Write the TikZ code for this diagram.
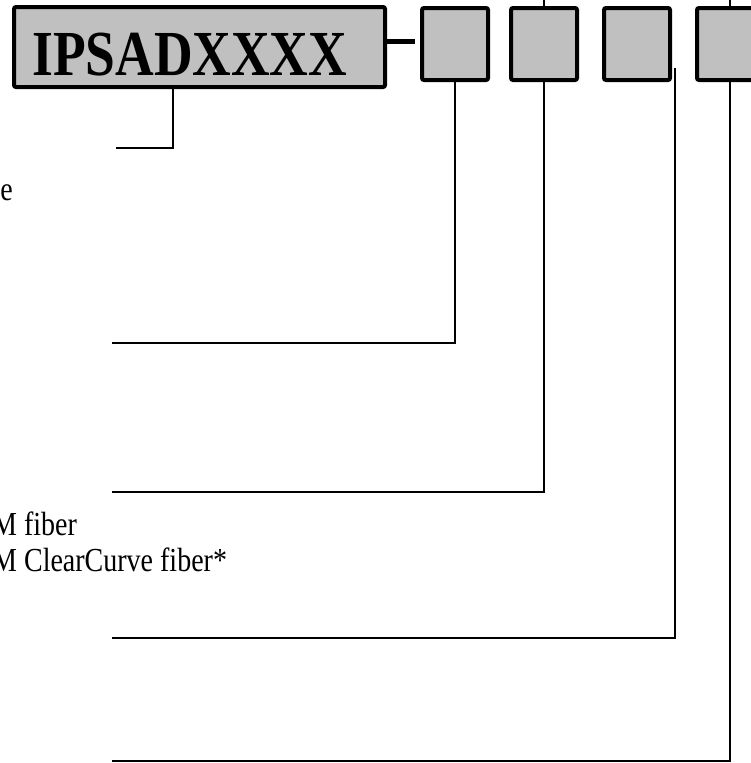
\documentclass[tikz,border=0pt]{standalone}
\usepackage{fontspec}
\setmainfont{Liberation Serif}
\usetikzlibrary{positioning}
\definecolor{boxgray}{HTML}{C0C0C0}
\newcommand\vstretch[1]{\scalebox{1}[1.2]{#1}}

\begin{document}
\begin{tikzpicture}[x=1pt,y=-1pt,
 codebox/.style={draw,line width=4pt,rounded corners=2pt,fill=boxgray,minimum width=371pt,minimum height=80pt,inner sep=0pt},
 cell/.style={draw,line width=4pt,rounded corners=2pt,fill=boxgray,minimum width=66pt,minimum height=72pt,inner sep=0pt},
 lead/.style={line width=1.3pt},
 opt/.style={font=\fontsize{28}{30}\selectfont,inner sep=0pt}]
\useasboundingbox (0,0) rectangle (751,763);
% part number and option fields
\node[codebox] (code) at (199.5,47) {};
\node[anchor=base west,inner sep=0pt,font=\fontsize{53.5}{60}\selectfont\bfseries] (codetext) at (32,75) {\vstretch{IPSADXXXX}};
\node[cell] (b1) at (455,44) {};
\node[cell,right=19pt of b1] (b2) {};
\node[cell,right=23pt of b2] (b3) {};
\node[cell,right=23pt of b3] (b4) {};
\draw[line width=5pt] ([yshift=6pt]code.east) -- ([xshift=-5pt,yshift=3pt]b1.west);
% labels (cut at the left edge)
\node[opt,anchor=base east] (lblcode) at (13,200) {\vstretch{e}};
\node[opt,anchor=base west] (lblfiber) at (-8,535) {\vstretch{M fiber}};
\node[opt,anchor=base west] (lblcurve) at (-8,571) {\vstretch{M ClearCurve fiber*}};
% leader lines
\coordinate (end0) at (116,148);
\coordinate (end1) at (112,343);
\coordinate (end2) at (112,492);
\coordinate (end3) at (112,638);
\coordinate (end4) at (112,761);
\draw[lead] ([xshift=-26.5pt]code.south) |- (end0);
\draw[lead] (b1.south) |- (end1);
\draw[lead] (b2.south) |- (end2);
\draw[lead] ([xshift=3pt,yshift=-24pt]b3.east) |- (end3);
\draw[lead] (b4.south) |- (end4);
\draw[lead] (b2.north) -- (b2.north |- 0,0);
\draw[lead] (b4.north) -- (b4.north |- 0,0);
\end{tikzpicture}
\end{document}
